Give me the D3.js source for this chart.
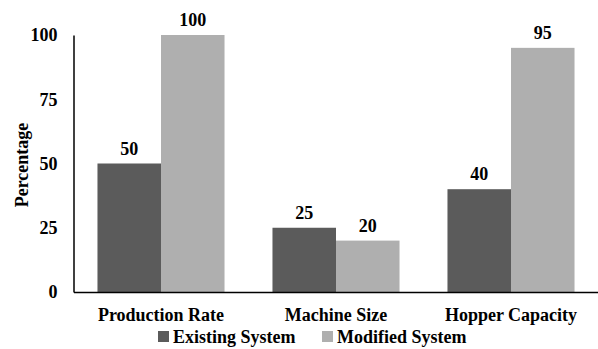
<!DOCTYPE html>
<html><head><meta charset="utf-8">
<script src="https://cdn.jsdelivr.net/npm/d3@7"></script>
<style>body{margin:0;background:#fff}svg{display:block}text{font-family:"Liberation Serif","Times New Roman",serif;font-weight:bold;fill:#000}</style>
</head><body>
<svg id="c" width="598" height="349"></svg>
<script>
const categories = ["Production Rate", "Machine Size", "Hopper Capacity"];
const seriesNames = ["Existing System", "Modified System"];
const existing = [50, 25, 40];
const modified = [100, 20, 95];
const yTicks = [0, 25, 50, 75, 100];
const colors = ["#5b5b5b", "#afafaf"];

(function () {
const svg = d3.select("#c");
const mLeft = 73.5, mRight = 598.5, mTop = 35, mBottom = 292;
const x0 = d3.scaleBand().domain(categories).range([mLeft, mRight]).paddingInner(0.274).paddingOuter(0.137);
const x1 = d3.scaleBand().domain(seriesNames).range([0, x0.bandwidth()]);
const y = d3.scaleLinear().domain([0, 100]).range([mBottom, mTop]);
const color = d3.scaleOrdinal().domain(seriesNames).range(colors);

const data = categories.map((c, i) => ({cat: c, vals: [
  {s: seriesNames[0], v: existing[i]}, {s: seriesNames[1], v: modified[i]}]}));

const g = svg.selectAll("g.grp").data(data).join("g").attr("class", "grp")
  .attr("transform", d => `translate(${x0(d.cat)},0)`);
g.selectAll("rect").data(d => d.vals).join("rect")
  .attr("x", d => x1(d.s)).attr("width", x1.bandwidth())
  .attr("y", d => y(d.v)).attr("height", d => mBottom - y(d.v))
  .attr("fill", d => color(d.s));
g.selectAll("text.val").data(d => d.vals).join("text").attr("class", "val")
  .attr("x", d => x1(d.s) + x1.bandwidth() / 2).attr("y", d => y(d.v) - 9)
  .attr("text-anchor", "middle").attr("font-size", 18).text(d => d.v);

const ya = svg.append("g").attr("transform", `translate(${mLeft},0)`)
  .call(d3.axisLeft(y).tickValues(yTicks).tickSize(0).tickPadding(16));
ya.select(".domain").attr("stroke", "#000").attr("stroke-width", 1.5);
ya.selectAll("text").attr("font-size", 18).attr("font-family", "Liberation Serif").attr("font-weight", "bold").attr("fill", "#000");

const xa = svg.append("g").attr("transform", `translate(0,${mBottom})`)
  .call(d3.axisBottom(x0).tickSize(0).tickPadding(16));
xa.select(".domain").attr("stroke", "#000").attr("stroke-width", 1.5);
xa.selectAll("text").attr("font-size", 18).attr("font-family", "Liberation Serif").attr("font-weight", "bold").attr("fill", "#000");

svg.append("text").attr("transform", "translate(28,165) rotate(-90)")
  .attr("text-anchor", "middle").attr("font-size", 18).text("Percentage");

const legX = [158, 322];
const leg = svg.selectAll("g.leg").data(seriesNames).join("g").attr("class", "leg")
  .attr("transform", (d, i) => `translate(${legX[i]},331)`);
leg.append("rect").attr("width", 11).attr("height", 11).attr("fill", d => color(d));
leg.append("text").attr("x", 15).attr("y", 12).attr("font-size", 18).text(d => d);
})();
</script>
</body></html>
